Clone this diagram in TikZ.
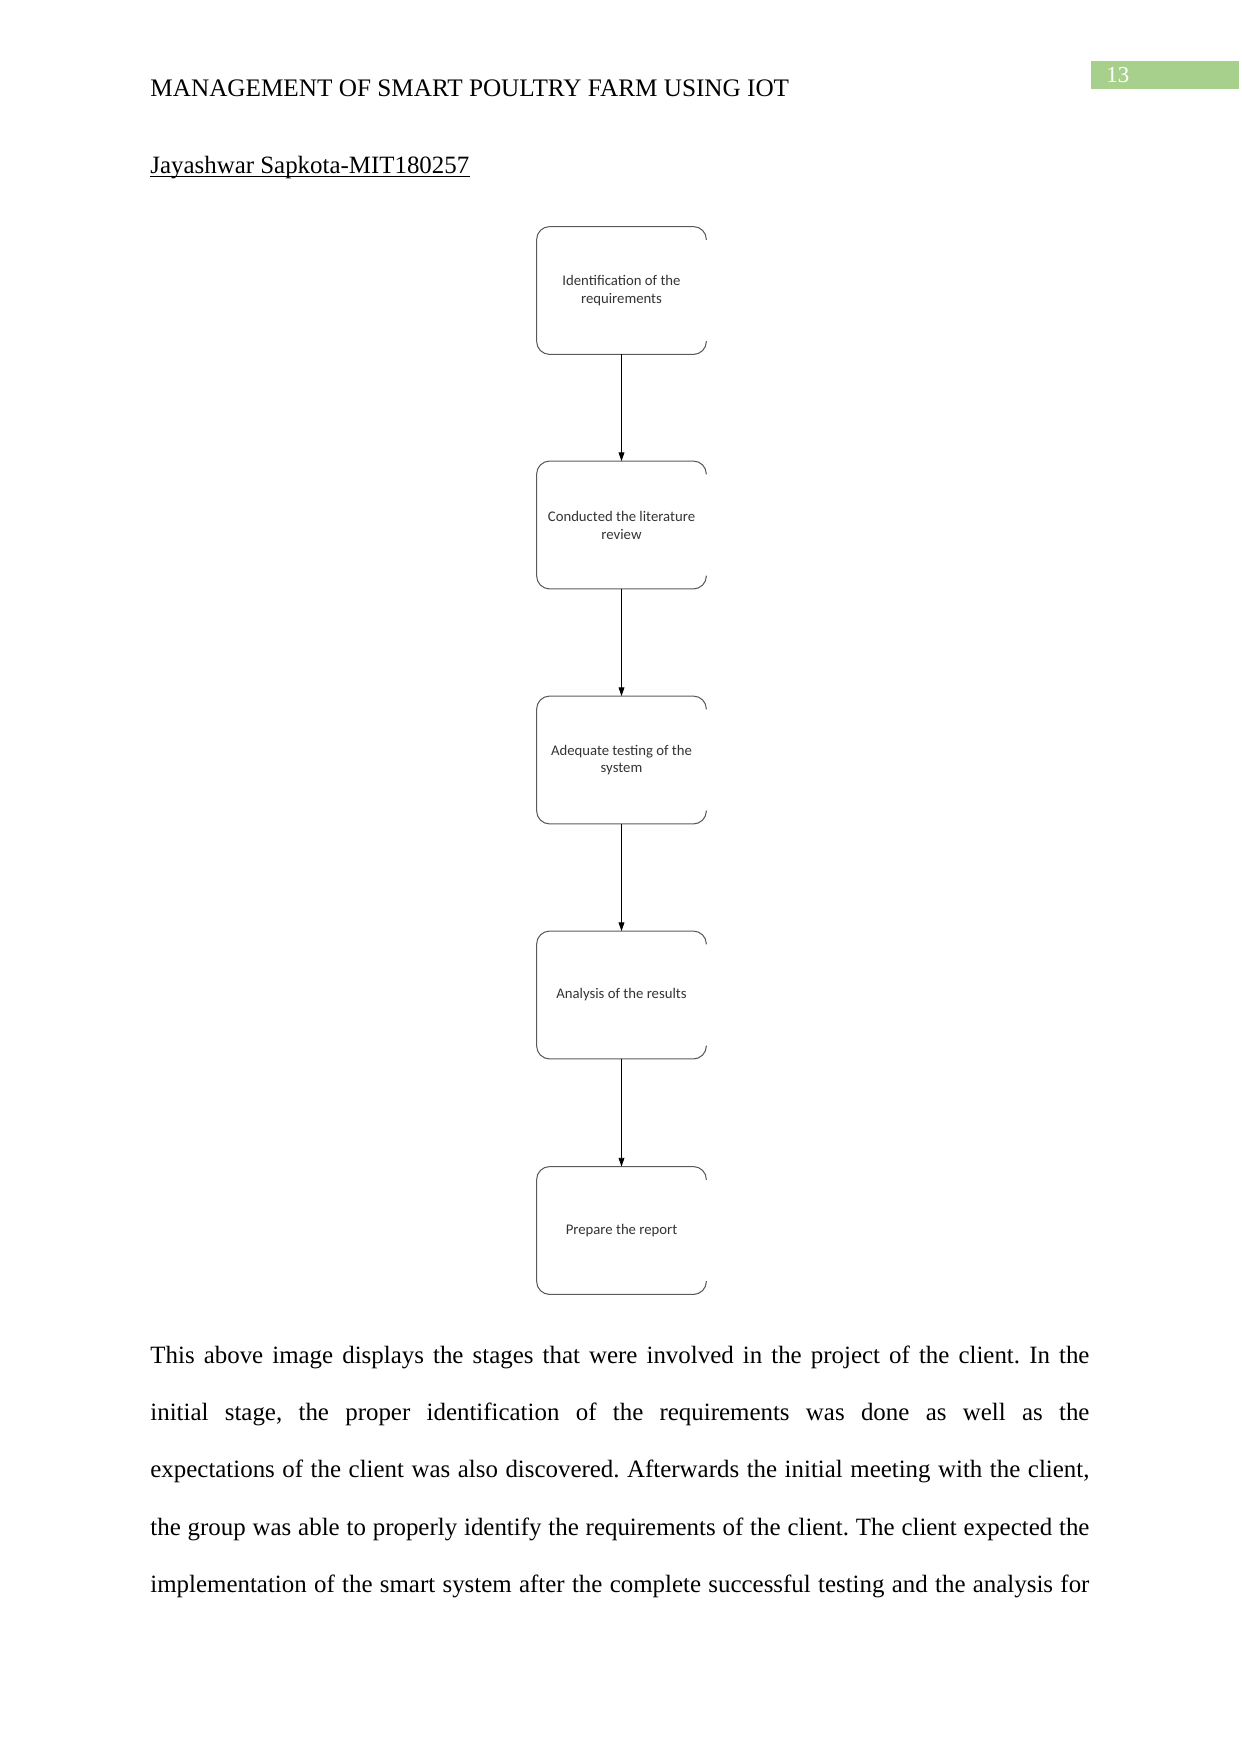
\documentclass[tikz,border=0pt]{standalone}
\usepackage{fontspec}
\setmainfont{Liberation Serif}
\newfontfamily\carlito{Carlito}
\usetikzlibrary{arrows.meta}
\definecolor{pagegreen}{HTML}{A8D08D}
\definecolor{boxgray}{HTML}{5A5A5A}
\definecolor{labelgray}{HTML}{333333}
\frenchspacing
\tikzset{
  x=0.48bp, y=-0.48bp,
  stagebox/.style={rectangle, draw=none, minimum width=81.1bp, minimum height=61bp,
    inner sep=0pt, align=center, text=labelgray,
    font=\carlito\fontsize{7.1}{8.6}\selectfont},
  flowarrow/.style={draw=black, line width=0.45bp, -{Triangle[length=4.2bp,width=2.8bp]}},
  boxline/.style={draw=boxgray, line width=0.5bp},
  bodyline/.style={anchor=base west, inner sep=0pt, font=\fontsize{12}{14}\selectfont},
}
\newcommand{\jline}[1]{\makebox[450.7bp][s]{#1}}
\begin{document}
\begin{tikzpicture}
\useasboundingbox (0,0) rectangle (1241,1754);
% header
\node[bodyline, font=\fontsize{12.15}{14}\selectfont] (head) at (150,96) {MANAGEMENT OF SMART POULTRY FARM USING IOT};
\fill[pagegreen] (1091,61) rectangle (1239,89);
\node[anchor=base west, inner sep=0pt, text=white, font=\fontsize{11}{13}\selectfont] (pnum) at (1106,82) {13};
\node[bodyline] (author) at (150,173) {Jayashwar Sapkota-MIT180257};
\draw[line width=0.55bp] ([yshift=-1.6bp]author.base west) -- ([yshift=-1.6bp]author.base east);
% stages
\node[stagebox] (b1) at (621.5,290.5) {Identification of the\\requirements};
\node[stagebox] (b2) at (621.5,525) {Conducted the literature\\review};
\node[stagebox] (b3) at (621.5,760) {Adequate testing of the\\system};
\node[stagebox] (b4) at (621.5,995) {Analysis of the results};
\node[stagebox] (b5) at (621.5,1230.5) {Prepare the report};
\foreach \n in {b1,b2,b3,b4,b5}{
  \draw[boxline, rounded corners=6.3bp]
    ([yshift=-6.4bp]\n.north east) -- (\n.north east) -- (\n.north west)
    -- (\n.south west) -- (\n.south east) -- ([yshift=6.4bp]\n.south east);
}
\draw[flowarrow] (b1) -- (b2);
\draw[flowarrow] (b2) -- (b3);
\draw[flowarrow] (b3) -- (b4);
\draw[flowarrow] (b4) -- (b5);
% paragraph
\node[bodyline] (p1) at (150,1363) {\jline{This above image displays the stages that were involved in the project of the client. In the}};
\node[bodyline] (p2) at (150,1420) {\jline{initial stage, the proper identification of the requirements was done as well as the}};
\node[bodyline] (p3) at (150,1477) {\jline{expectations of the client was also discovered. Afterwards the initial meeting with the client,}};
\node[bodyline] (p4) at (150,1535) {\jline{the group was able to properly identify the requirements of the client. The client expected the}};
\node[bodyline] (p5) at (150,1592) {\jline{implementation of the smart system after the complete successful testing and the analysis for}};
\end{tikzpicture}
\end{document}
